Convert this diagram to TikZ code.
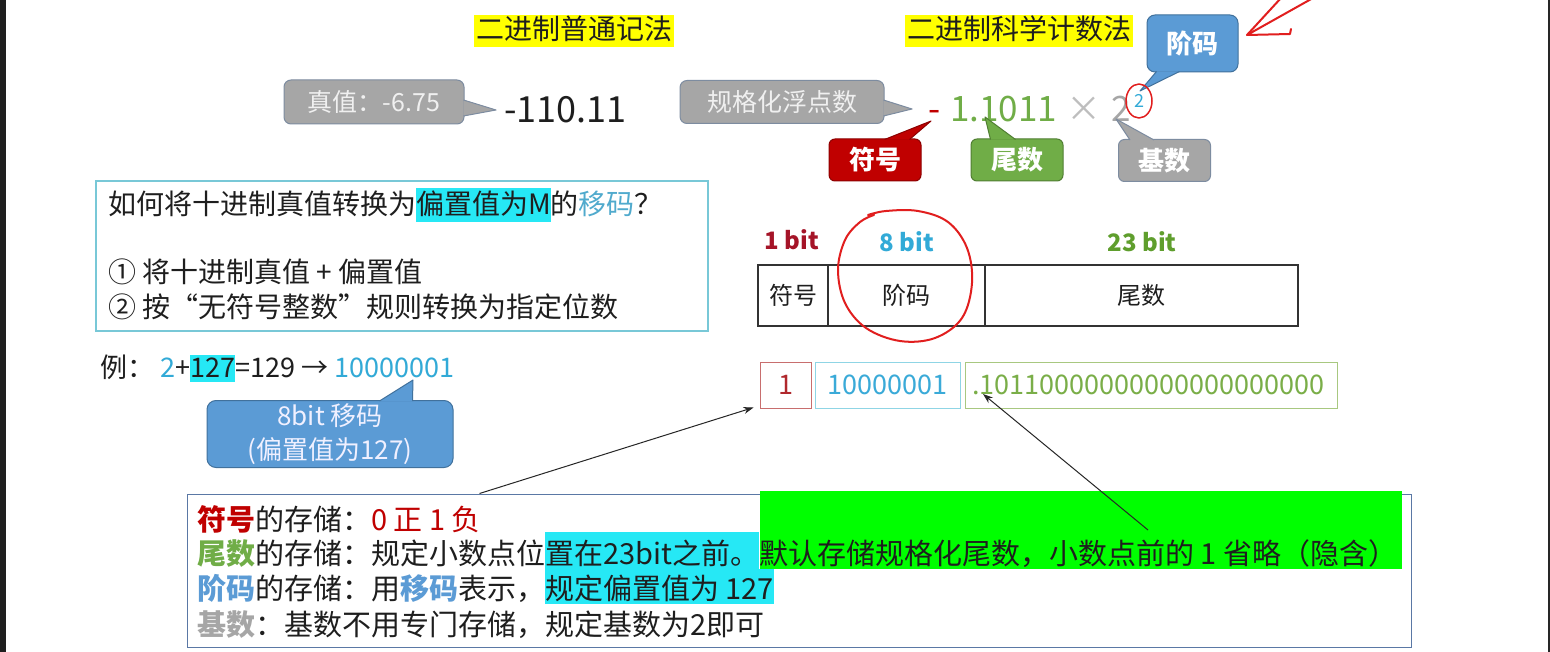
\documentclass[tikz,border=0pt]{standalone}
\usepackage{fontspec}
\setmainfont{Noto Sans CJK SC}
\usetikzlibrary{arrows.meta,calc}
\definecolor{hlyellow}{RGB}{255,255,0}
\definecolor{hlcyan}{RGB}{38,232,245}
\definecolor{hlgreen}{RGB}{0,255,0}
\definecolor{calgray}{RGB}{166,166,166}
\definecolor{calgrayline}{RGB}{125,140,160}
\definecolor{calblue}{RGB}{91,155,213}
\definecolor{calblueline}{RGB}{65,113,156}
\definecolor{calred}{RGB}{192,0,0}
\definecolor{calredline}{RGB}{140,0,0}
\definecolor{calgreen}{RGB}{112,173,71}
\definecolor{calgreenline}{RGB}{80,126,50}
\definecolor{sgnred}{RGB}{165,20,40}
\definecolor{expcyan}{RGB}{50,170,215}
\definecolor{mantgreen}{RGB}{95,158,45}
\definecolor{inkred}{RGB}{225,30,30}
\definecolor{txtblack}{RGB}{30,30,30}
\definecolor{mablue}{RGB}{80,170,205}
\definecolor{frameblue}{RGB}{90,120,165}
\definecolor{framecyan}{RGB}{120,200,215}
\definecolor{valred}{RGB}{176,40,45}
\definecolor{valredline}{RGB}{200,110,110}
\definecolor{valcyan}{RGB}{58,170,216}
\definecolor{valcyanline}{RGB}{143,213,229}
\definecolor{valgreen}{RGB}{122,174,72}
\definecolor{valgreenline}{RGB}{168,200,128}
\definecolor{timesgray}{RGB}{190,190,190}
\newcommand{\hlmark}[4]{{\setlength{\fboxsep}{0pt}\colorbox{#1}{\vrule height #2 depth #3 width 0pt #4}}}

\begin{document}
\begin{tikzpicture}[x=1pt, y=-1pt,
    titlebar/.style={fill=hlyellow, inner xsep=2pt, inner ysep=0pt, text height=25pt, text depth=7pt, font=\fontsize{28}{34}\selectfont, text=txtblack},
    calgraybox/.style={rounded corners=7pt, fill=calgray, draw=calgrayline, line width=1pt, text=white!94!black, font=\fontsize{25}{30}\selectfont, inner sep=0pt},
    partbox/.style={rounded corners=6pt, line width=1pt, text=white, font=\bfseries\fontsize{26}{30}\selectfont, minimum width=92pt, minimum height=42pt, inner sep=0pt},
    formula/.style={inner sep=0pt, font=\fontsize{35}{38}\selectfont},
    bitlabel/.style={font=\bfseries\fontsize{24}{28}\selectfont},
    cellbox/.style={draw=black!80, line width=1.5pt, minimum height=61pt, inner sep=0pt, font=\fontsize{24}{28}\selectfont, text=txtblack},
    valbox/.style={line width=1pt, minimum height=46pt, inner sep=0pt, font=\fontsize{27}{30}\selectfont},
    askline/.style={anchor=base west, inner sep=0pt, font=\fontsize{28}{34}\selectfont, text=txtblack},
    storeline/.style={anchor=base west, inner sep=0pt, font=\fontsize{29}{35}\selectfont, text=txtblack},
    inkmark/.style={draw=inkred, line width=2pt, line cap=round, line join=round},
    pointer/.style={-{Stealth[length=10pt,width=7pt]}, line width=1pt, draw=black!85}
  ]
  \useasboundingbox (0,0) rectangle (1550,652);
  \fill[white] (0,0) rectangle (1550,652);
  \fill[black!88] (0,0) rectangle (6,652);
  \fill[black!85] (1548,0) rectangle (1550,652);

  % titles
  \node[titlebar] (plaintitle) at (574,31) {二进制普通记法};
  \node[titlebar] (scititle) at (1019,31) {二进制科学计数法};

  % true value
  \node[calgraybox, minimum width=180pt, minimum height=44pt] (zhenzhi) at (374,102) {真值：-6.75};
  \coordinate (zhenzhitip) at (496,110);
  \filldraw[fill=calgray, draw=calgrayline, line width=1pt, line join=round] ($(zhenzhi.east)+(-1,-2)$) -- (zhenzhitip) -- ($(zhenzhi.east)+(-1,14)$);
  \node[formula, anchor=base west, font=\fontsize{36}{40}\selectfont, text=txtblack] (binval) at (504,123) {-110.11};

  % normalized float
  \node[calgraybox, minimum width=204pt, minimum height=43pt] (guige) at (782,102) {规格化浮点数};
  \coordinate (guigetip) at (912,109);
  \filldraw[fill=calgray, draw=calgrayline, line width=1pt, line join=round] ($(guige.east)+(-1,-2)$) -- (guigetip) -- ($(guige.east)+(-1,14)$);
  \node[formula, anchor=base, text=calred] (minus) at (935,122) {-};
  \node[formula, anchor=base west, text=calgreen] (mantnum) at (950,122) {1.1011};
  \node[formula, anchor=base, text=timesgray] (times) at (1084,122) {×};
  \node[formula, anchor=base, text=calgray] (radix) at (1121,122) {2};
  \node[inner sep=0pt, font=\fontsize{18}{20}\selectfont, text=expcyan] (expnum) at (1139,101) {2};

  % part callouts
  \node[partbox, fill=calblue, draw=calblueline, minimum width=91pt, minimum height=57pt, rounded corners=8pt] (jiema) at (1192.5,43.5) {阶码};
  \coordinate (jiematip) at (1140,91);
  \filldraw[fill=calblue, draw=calblueline, line width=1pt, line join=round] ($(jiema.south west)+(10,-1)$) -- (jiematip) -- ($(jiema.south west)+(33,-1)$);
  \node[partbox, fill=calred, draw=calredline] (fuhao) at (875,160) {符号};
  \coordinate (fuhaotip) at (931,121);
  \filldraw[fill=calred, draw=calredline, line width=1pt, line join=round] ($(fuhao.north west)+(56,1)$) -- (fuhaotip) -- ($(fuhao.north west)+(81,1)$);
  \node[partbox, fill=calgreen, draw=calgreenline] (weishu) at (1017,160) {尾数};
  \coordinate (weishutip) at (985,117);
  \filldraw[fill=calgreen, draw=calgreenline, line width=1pt, line join=round] ($(weishu.north west)+(20,1)$) -- (weishutip) -- ($(weishu.north west)+(45,1)$);
  \node[partbox, fill=calgray, draw=calgrayline] (jishu) at (1164.5,160.5) {基数};
  \coordinate (jishutip) at (1116,119);
  \filldraw[fill=calgray, draw=calgrayline, line width=1pt, line join=round] ($(jishu.north west)+(12,1)$) -- (jishutip) -- ($(jishu.north west)+(36,1)$);

  % question box
  \node[draw=framecyan, line width=1.5pt, minimum width=612pt, minimum height=150pt, inner sep=0pt] (askbox) at (402,256) {};
  \node[askline] (ask1) at (108,215) {如何将十进制真值转换为\hlmark{hlcyan}{27pt}{7pt}{偏置值为M}的\textcolor{mablue}{移码}？};
  \node[askline] (ask2) at (108,283) {① 将十进制真值 + 偏置值};
  \node[askline] (ask3) at (108,318) {② 按“无符号整数”规则转换为指定位数};

  % example
  \node[askline, font=\fontsize{27}{32}\selectfont] (example) at (100,377) {例：\hspace{6pt}\textcolor{expcyan}{2}+\hlmark{hlcyan}{22pt}{5pt}{127}=129 → \textcolor{expcyan}{10000001}};
  \node[rounded corners=9pt, fill=calblue, draw=calblueline, line width=1pt, minimum width=246pt, minimum height=67pt, inner sep=0pt, align=center, text=white!94!blue, font=\fontsize{26}{34}\selectfont] (yima) at (330,434) {8bit 移码\\(偏置值为127)};
  \coordinate (yimatip) at (413,380);
  \filldraw[fill=calblue, draw=calblueline, line width=1pt, line join=round] ($(yima.north west)+(173,1)$) -- (yimatip) -- ($(yima.north west)+(206,1)$);

  % bit layout
  \node[bitlabel, text=sgnred] (bit1) at (792,240) {1 bit};
  \node[bitlabel, text=expcyan] (bit8) at (907,242) {8 bit};
  \node[bitlabel, text=mantgreen] (bit23) at (1142,242) {23 bit};
  \node[cellbox, minimum width=70pt] (sgncell) at (793,295.5) {符号};
  \node[cellbox, minimum width=157pt] (expcell) at (906.5,295.5) {阶码};
  \node[cellbox, minimum width=313pt] (mantcell) at (1141.5,295.5) {尾数};

  % stored values
  \node[valbox, draw=valredline, text=valred, minimum width=51pt] (sgnval) at (785.5,385) {1};
  \node[valbox, draw=valcyanline, text=valcyan, minimum width=145pt] (expval) at (887.5,385) {10000001};
  \node[valbox, draw=valgreenline, text=valgreen, text width=358pt, inner xsep=7pt, align=left] (mantval) at (1151,385) {.10110000000000000000000};
  \coordinate (dotpt) at (983,394);
  \coordinate (sgntip) at ($(sgnval.south west)+(-6,-1)$);

  % storage rules
  \node[draw=frameblue, line width=1pt, minimum width=1224pt, minimum height=153pt, inner sep=0pt] (storebox) at (799,570.5) {};
  \fill[hlgreen] (760,491) rectangle (1402,569);
  \node[storeline] (store1) at (197,530) {\textcolor{calred}{\bfseries 符号}的存储：\textcolor{calred}{0 正 1 负}};
  \node[storeline] (store2) at (197,564) {\textcolor{calgreen}{\bfseries 尾数}的存储：规定小数点位\hlmark{hlcyan}{32pt}{5pt}{置在23bit之前。}默认存储规格化尾数，小数点前的 1 省略（隐含）};
  \node[storeline] (store3) at (197,599) {\textcolor{calblue}{\bfseries 阶码}的存储：用\textcolor{calblue}{\bfseries 移码}表示，\hlmark{hlcyan}{30pt}{5pt}{规定偏置值为 127}};
  \node[storeline] (store4) at (197,635) {\textcolor{calgray}{\bfseries 基数}：基数不用专门存储，规定基数为2即可};

  % arrows
  \coordinate (sgnsrc) at ($(storebox.north west)+(293,0)$);
  \coordinate (mantsrc) at (1148,530);
  \draw[pointer] (sgnsrc) -- (sgntip);
  \draw[pointer] (mantsrc) -- (dotpt);

  % red ink marks
  \draw[inkmark, line width=1.5pt] (expnum) ellipse [x radius=13, y radius=17];
  \draw[inkmark] plot[smooth, tension=0.6] coordinates {(868,215) (886,211) (918,211) (948,222) (967,248) (972,283) (962,318) (935,338) (900,341) (866,328) (845,303) (838,270) (845,240) (860,222) (874,215)};
  \draw[inkmark] (1281,-2) -- (1247,35);
  \draw[inkmark] (1313,-2) -- (1247,35) -- (1290,34) -- (1291,29);
\end{tikzpicture}
\end{document}
